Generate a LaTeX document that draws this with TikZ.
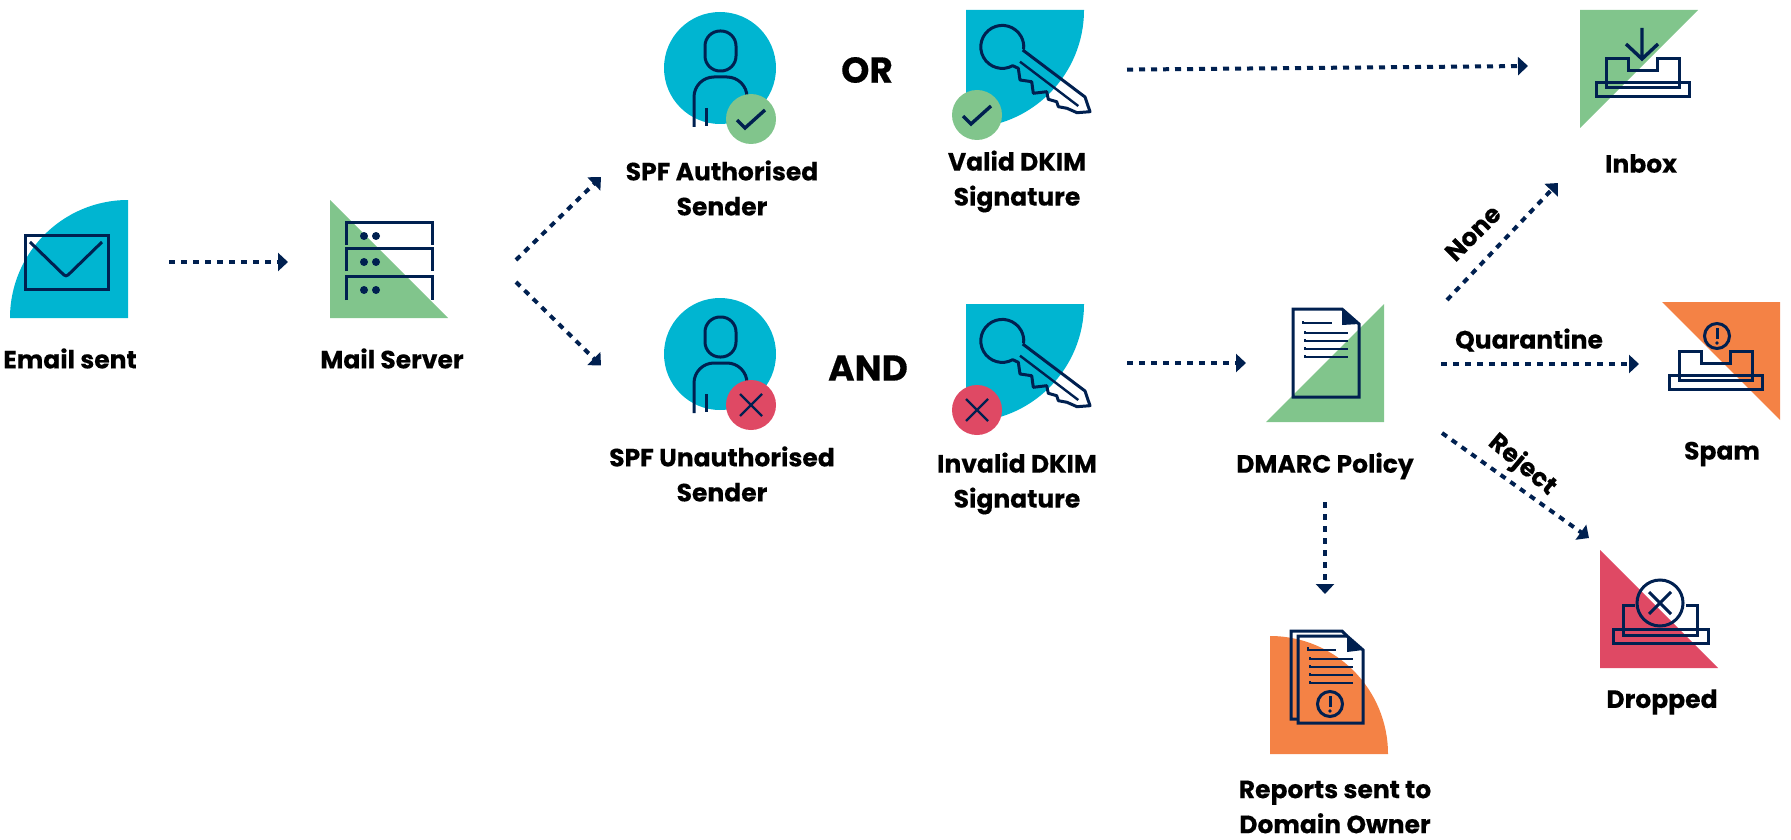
\documentclass[tikz,border=0pt]{standalone}
\usepackage{fontspec}
\setmainfont{Poppins}[BoldFeatures={FakeBold=0.35}]
\usetikzlibrary{arrows.meta}
\definecolor{cblue}{HTML}{00B5D1}
\definecolor{cgreen}{HTML}{81C58C}
\definecolor{corange}{HTML}{F48245}
\definecolor{cred}{HTML}{DF4964}
\definecolor{navy}{HTML}{002050}
\tikzset{
  iconline/.style={draw=navy,line width=3pt,line join=miter},
  thinline/.style={draw=navy,line width=2pt},
  flow/.style={draw=navy,line width=4pt,dash pattern=on 6pt off 6pt,-{Triangle[length=10pt,width=18pt]}},
  lab/.style={font=\fontsize{25}{35}\selectfont\bfseries,text=black,inner sep=0pt,align=center},
  big/.style={font=\fontsize{36}{36}\selectfont\bfseries,text=black,inner sep=0pt},
  iconbox/.style={minimum width=118pt,minimum height=118pt,inner sep=0pt,outer sep=0pt},
  discbox/.style={iconbox,minimum width=112pt,minimum height=112pt},
}
\newcommand{\checkbadge}[2]{\fill[cgreen] (#1,#2) circle[radius=25];
  \draw[iconline,line width=3.4pt] (#1-14,#2+1) -- (#1-6,#2+9) -- (#1+14,#2-9);}
\newcommand{\crossbadge}[2]{\fill[cred] (#1,#2) circle[radius=25];
  \draw[iconline,line width=2.4pt] (#1-11,#2-11) -- (#1+11,#2+11) (#1-11,#2+11) -- (#1+11,#2-11);}
\newcommand{\personicon}{%
  \fill[cblue] (720,68) circle[radius=56];
  \draw[iconline,rounded corners=15] (705,31) rectangle (736,71);
  \draw[iconline,rounded corners=20] (694,127) -- (694,77) -- (747,77) -- (747,110);
  \draw[iconline] (706,108) -- (706,126);}
\newcommand{\keyicon}{%
  \fill[cblue] (966,10) -- (1084,10) arc[start angle=0,delta angle=90,radius=118] -- cycle;
  \draw[iconline,line join=round] (1022.7,50) -- (1085,97) -- (1090,111.7) -- (1077,112.7) -- (1067,108.3) -- (1058.3,106.7) -- (1056.7,101.7) -- (1048.3,99.3) -- (1046.7,91.7) -- (1033.3,93.3) -- (1031.7,81.7) -- (1020,80) -- (1018.3,68.3) -- (1012.7,65.7) arc[start angle=61,delta angle=305,radius=21.5];
  \draw[thinline,line width=2.4pt] (1020,61.7) -- (1078.3,106);}
\newcommand{\trayicon}{% origin: tray at inbox position
  \draw[iconline] (1596,83) rectangle (1689,97);
  \draw[iconline] (1606,88) -- (1606,59) -- (1628,59) -- (1628,71) -- (1657,71) -- (1657,59) -- (1679,59) -- (1679,88) -- cycle;}
\newcommand{\alert}[2]{\draw[iconline] (#1,#2) circle[radius=12.5];
  \draw[iconline] (#1,#2-8) -- (#1,#2+3);
  \fill[navy] (#1,#2+7) circle[radius=1.8];}
\begin{document}
\begin{tikzpicture}[x=1pt,y=-1pt]
\useasboundingbox (0,0) rectangle (1791,840);
% ---- anchor nodes of the icons
\node[iconbox] (email)   at (69,259) {};
\node[iconbox] (server)  at (389,259) {};
\node[discbox] (spfok)   at (720,68) {};
\node[discbox] (spfbad)  at (720,354) {};
\node[iconbox] (dkimok)  at (1025,69) {};
\node[iconbox] (dkimbad) at (1025,363) {};
\node[iconbox] (dmarc)   at (1325,363) {};
\node[iconbox] (inbox)   at (1639,69) {};
\node[iconbox] (spam)    at (1721,361) {};
\node[iconbox] (dropped) at (1659,608) {};
\node[iconbox] (reports) at (1329,695) {};
% ---- email
\fill[cblue] (128,318) -- (10,318) arc[start angle=180,delta angle=90,radius=118] -- cycle;
\draw[iconline] (25,235) rectangle (108,289);
\draw[iconline,rounded corners=3] (30,242) -- (66,277) -- (102,242);
% ---- mail server
\fill[cgreen] (330,200) -- (448,318) -- (330,318) -- cycle;
\foreach \ya/\yb in {222/245,248/271,276/300}{
  \draw[iconline] (346,\yb) -- (346,\ya) -- (432,\ya) -- (432,\yb);
  \fill[navy] (364,\ya+14) circle[radius=4] (376,\ya+14) circle[radius=4];
}
% ---- persons
\personicon \checkbadge{751}{119}
\begin{scope}[shift={(0,286)}]\personicon\end{scope}
\crossbadge{751}{405}
% ---- keys
\keyicon \checkbadge{977}{115}
\begin{scope}[shift={(0,294)}]\keyicon\end{scope}
\crossbadge{977}{410}
% ---- inbox
\fill[cgreen] (1580,10) -- (1698,10) -- (1580,128) -- cycle;
\trayicon
\draw[iconline,line width=3.4pt] (1642,28) -- (1642,59) (1626,44) -- (1642,59) -- (1658,44);
% ---- spam
\fill[corange] (1662,302) -- (1780,302) -- (1780,420) -- cycle;
\begin{scope}[shift={(73,292)}]\trayicon\end{scope}
\alert{1717}{336}
% ---- dmarc
\fill[cgreen] (1266,422) -- (1384,422) -- (1384,304) -- cycle;
\draw[iconline] (1293,309) -- (1342,309) -- (1359,324) -- (1359,397) -- (1293,397) -- cycle;
\fill[navy] (1342,309) -- (1359,324) -- (1342,325) -- cycle;
\draw[thinline] (1303,321) -- (1303,323) -- (1332,323);
\foreach \yy in {333,341,349,357}{\draw[thinline] (1305,\yy-2) -- (1305,\yy) -- (1348,\yy);}
% ---- dropped
\fill[cred] (1600,550) -- (1718,668) -- (1600,668) -- cycle;
\draw[iconline] (1613,629) rectangle (1708,643);
\draw[iconline] (1635,605) -- (1623,605) -- (1623,635) -- (1697,635) -- (1697,605) -- (1686,605);
\draw[iconline] (1660,603) circle[radius=23];
\draw[iconline] (1649,592) -- (1671,614) (1649,614) -- (1671,592);
% ---- reports
\fill[corange] (1270,754) -- (1388,754) arc[start angle=0,delta angle=-90,radius=118] -- cycle;
\draw[iconline] (1298,719) -- (1291,719) -- (1291,631) -- (1342,631) -- (1347,636);
\draw[iconline] (1298,636) -- (1347,636) -- (1363,650) -- (1363,723) -- (1298,723) -- cycle;
\fill[navy] (1347,636) -- (1363,650) -- (1347,652) -- cycle;
\draw[thinline] (1308,647) -- (1308,650) -- (1336,650);
\foreach \yy in {659,667,675,683}{\draw[thinline] (1310,\yy-2) -- (1310,\yy) -- (1353,\yy);}
\alert{1330}{704}
% ---- labels
\node[lab] (lemail) at (70,358.5) {Email sent};
\node[lab] (lserver) at (392,358.5) {Mail Server};
\node[lab] (lspfok) at (722,188) {SPF Authorised\\Sender};
\node[lab] (lspfbad) at (722,474) {SPF Unauthorised\\Sender};
\node[lab] (ldkimok) at (1017,181.5) {Valid DKIM\\Signature};
\node[lab] (ldkimbad) at (1017,483.5) {Invalid DKIM\\Signature};
\node[lab] (ldmarc) at (1325,466) {DMARC Policy};
\node[lab] (lreports) at (1335,807) {Reports sent to\\Domain Owner};
\node[lab] (linbox) at (1641,163.5) {Inbox};
\node[lab] (lspam) at (1722,454) {Spam};
\node[lab] (ldropped) at (1662,702) {Dropped};
\node[big] (or) at (867,70) {OR};
\node[big] (and) at (868,368) {AND};
\node[lab] (lquar) at (1529,340) {Quarantine};
\node[lab,rotate=45] (lnone) at (1473,233) {None};
\node[lab,rotate=-40] (lrej) at (1522,465) {Reject};
% ---- connectors
\draw[flow] ([xshift=41pt,yshift=-3pt]email.east) -- ([xshift=-42pt,yshift=-3pt]server.west);
\draw[flow] ([xshift=68pt,yshift=-1pt]server.east) -- ([xshift=-63pt,yshift=-109pt]spfok.west);
\draw[flow] ([xshift=68pt,yshift=-23pt]server.east) -- ([xshift=-63pt,yshift=-11.5pt]spfbad.west);
\draw[flow] ([xshift=43pt,yshift=-0.6pt]dkimok.east) -- ([xshift=-52pt,yshift=3pt]inbox.west);
\draw[flow] ([xshift=43pt]dkimbad.east) -- ([xshift=-20pt]dmarc.west);
\draw[flow] ([xshift=57pt,yshift=-1pt]dmarc.east) -- ([xshift=-23pt,yshift=-3pt]spam.west);
\draw[flow] ([xshift=63pt,yshift=63pt]dmarc.east) -- ([xshift=-81pt,yshift=-55pt]inbox.south);
\draw[flow] ([xshift=58pt,yshift=-70pt]dmarc.east) -- ([xshift=-70pt,yshift=11pt]dropped.north);
\draw[flow] ([yshift=-80pt]dmarc.south) -- ([xshift=-4pt,yshift=42pt]reports.north);
\end{tikzpicture}
\end{document}
